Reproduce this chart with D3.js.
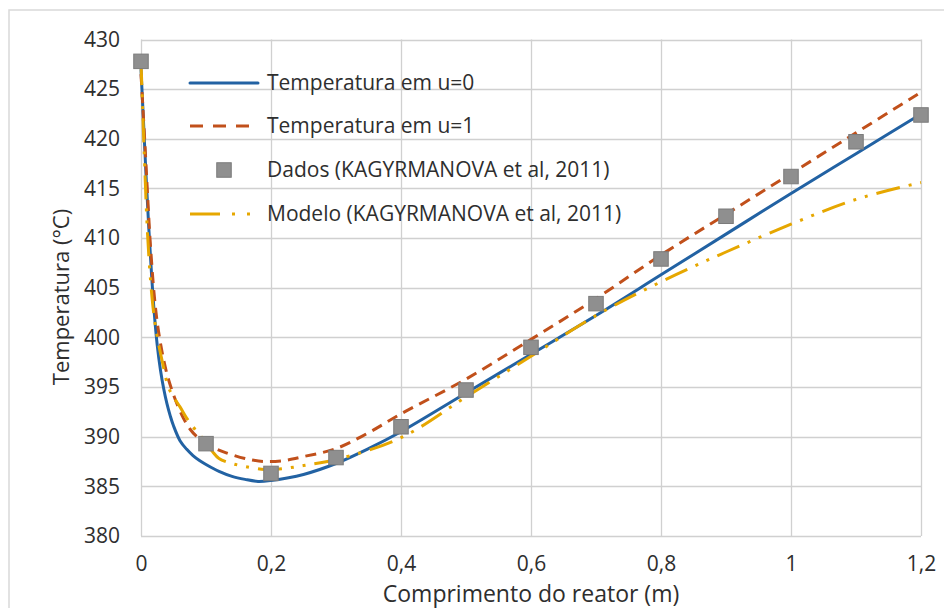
<!DOCTYPE html>
<html>
<head>
<meta charset="utf-8">
<script src="https://cdn.jsdelivr.net/npm/d3@7"></script>
<style>
  html, body { margin: 0; padding: 0; background: #fff; }
  svg { display: block; font-family: "Open Sans", sans-serif; }
</style>
</head>
<body>
<svg id="chart" width="944" height="608"></svg>
<script>
// ---- Data ----
const xTicks = [0, 0.2, 0.4, 0.6, 0.8, 1, 1.2];
const yTicks = [380, 385, 390, 395, 400, 405, 410, 415, 420, 425, 430];

const u0X = [0, 0.004, 0.008, 0.012, 0.016, 0.02, 0.025, 0.03, 0.035, 0.04, 0.045, 0.05, 0.06, 0.07, 0.08, 0.09, 0.1, 0.12, 0.14, 0.16, 0.18, 0.2, 0.25, 0.3, 0.35, 0.4, 0.5, 0.6, 0.7, 0.8, 0.9, 1.0, 1.1, 1.2];
const u0Y = [427.0, 421.5, 416.0, 411.0, 406.6, 402.8, 399.2, 396.7, 394.8, 393.3, 392.1, 391.1, 389.6, 388.75, 388.1, 387.6, 387.2, 386.5, 386.0, 385.7, 385.5, 385.6, 386.2, 387.3, 388.8, 390.5, 394.4, 398.3, 402.2, 406.3, 410.4, 414.5, 418.5, 422.5];

const u1X = [0, 0.006, 0.01, 0.014, 0.02, 0.025, 0.03, 0.035, 0.04, 0.048, 0.056, 0.065, 0.075, 0.086, 0.1, 0.115, 0.13, 0.16, 0.19, 0.22, 0.25, 0.3, 0.35, 0.4, 0.5, 0.6, 0.7, 0.8, 0.9, 1.0, 1.1, 1.2];
const u1Y = [426.5, 419.5, 414.5, 409.8, 404.5, 401.5, 399.4, 397.7, 396.3, 394.6, 393.2, 391.9, 390.8, 390.0, 389.3, 388.8, 388.4, 387.8, 387.5, 387.6, 388.0, 388.8, 390.4, 392.3, 395.8, 399.8, 403.9, 408.3, 412.4, 416.5, 420.6, 424.7];

const dadosX = [0, 0.1, 0.2, 0.3, 0.4, 0.5, 0.6, 0.7, 0.8, 0.9, 1.0, 1.1, 1.2];
const dadosY = [427.8, 389.3, 386.3, 387.9, 391.0, 394.7, 399.0, 403.4, 407.9, 412.2, 416.2, 419.7, 422.4];

const modeloX = [0, 0.005, 0.01, 0.015, 0.02, 0.026, 0.034, 0.042, 0.05, 0.06, 0.07, 0.08, 0.09, 0.1, 0.11, 0.12, 0.14, 0.16, 0.19, 0.22, 0.25, 0.3, 0.4, 0.5, 0.6, 0.7, 0.8, 0.9, 1.0, 1.1, 1.2];
const modeloY = [427.8, 418.5, 410.5, 405.5, 402.2, 399.7, 397.2, 395.0, 394.0, 393.0, 391.9, 391.0, 390.2, 389.4, 388.5, 387.8, 387.3, 387.0, 386.7, 386.8, 387.1, 387.7, 389.9, 394.0, 398.1, 402.2, 405.6, 408.6, 411.4, 413.9, 415.6];

const legendLabels = ["Temperatura em u=0", "Temperatura em u=1", "Dados (KAGYRMANOVA et al, 2011)", "Modelo (KAGYRMANOVA et al, 2011)"];
const xTitle = "Comprimento do reator (m)";
const yTitle = "Temperatura (°C)";

// ---- Styles ----
const C_BLUE = "#2262a3";
const C_RED = "#c1501b";
const C_GOLD = "#e6a700";
const C_GRID = "#d0d0d0";
const C_TEXT = "#2e2e2e";
const C_SQ = "#8f8f8f";
const C_SQ_EDGE = "#7b7b7b";

const svg = d3.select("#chart");
const W = 944, H = 608;
const plot = { left: 141, right: 921, top: 39.5, bottom: 536 };

// outer frame
svg.append("rect").attr("x", 9).attr("y", 10).attr("width", W).attr("height", H)
  .attr("fill", "#fff").attr("stroke", "#d9d9d9").attr("stroke-width", 1.5);

const x = d3.scaleLinear().domain([0, 1.2]).range([plot.left, plot.right]);
const y = d3.scaleLinear().domain([380, 430]).range([plot.bottom, plot.top]);

const fmt = d => d3.format("")(d).replace(".", ",");

// gridlines
const grid = svg.append("g");
grid.selectAll("line.h").data(yTicks).join("line")
  .attr("x1", plot.left).attr("x2", plot.right)
  .attr("y1", d => Math.round(y(d)) + 0.5).attr("y2", d => Math.round(y(d)) + 0.5)
  .attr("stroke", C_GRID).attr("stroke-width", 1.3);
grid.selectAll("line.v").data(xTicks).join("line")
  .attr("y1", plot.top).attr("y2", plot.bottom)
  .attr("x1", d => Math.round(x(d)) + 0.5).attr("x2", d => Math.round(x(d)) + 0.5)
  .attr("stroke", C_GRID).attr("stroke-width", 1.3);

// axes (labels via d3 axes)
const xAxis = svg.append("g").attr("transform", `translate(0,${plot.bottom})`)
  .call(d3.axisBottom(x).tickValues(xTicks).tickFormat(fmt).tickSize(0).tickPadding(20));
const yAxis = svg.append("g").attr("transform", `translate(${plot.left},0)`)
  .call(d3.axisLeft(y).tickValues(yTicks).tickFormat(d => d).tickSize(0).tickPadding(21));
[xAxis, yAxis].forEach(a => {
  a.select(".domain").remove();
  a.selectAll("text").attr("fill", C_TEXT).style("font-size", "21px").style("font-family", "'Open Sans', sans-serif");
});
xAxis.selectAll("text").attr("dy", "0.71em");

// axis titles
svg.append("text").attr("x", 531).attr("y", 602)
  .attr("text-anchor", "middle").attr("fill", C_TEXT).style("font-size", "23px").text(xTitle);
svg.append("text").attr("transform", `translate(69,297) rotate(-90)`)
  .attr("text-anchor", "middle").attr("fill", C_TEXT).style("font-size", "22px").text(yTitle);

// lines
const line = d3.line().x(d => x(d[0])).y(d => y(d[1])).curve(d3.curveCatmullRom.alpha(0.5));
const zip = (a, b) => a.map((v, i) => [v, b[i]]);

svg.append("clipPath").attr("id", "clip").append("rect")
  .attr("x", plot.left - 4).attr("y", plot.top - 4)
  .attr("width", plot.right - plot.left + 8).attr("height", plot.bottom - plot.top + 8);

const series = svg.append("g").attr("clip-path", "url(#clip)");
series.append("path").datum(zip(u0X, u0Y)).attr("d", line)
  .attr("fill", "none").attr("stroke", C_BLUE).attr("stroke-width", 3);
series.append("path").datum(zip(u1X, u1Y)).attr("d", line)
  .attr("fill", "none").attr("stroke", C_RED).attr("stroke-width", 3)
  .attr("stroke-dasharray", "11,7");
series.append("path").datum(zip(modeloX, modeloY)).attr("d", line)
  .attr("fill", "none").attr("stroke", C_GOLD).attr("stroke-width", 3)
  .attr("stroke-dasharray", "24,9,3,9,3,9");

// data squares
const sq = 14.5;
svg.append("g").selectAll("rect").data(zip(dadosX, dadosY)).join("rect")
  .attr("x", d => x(d[0]) - sq / 2).attr("y", d => y(d[1]) - sq / 2)
  .attr("width", sq).attr("height", sq)
  .attr("fill", C_SQ).attr("stroke", C_SQ_EDGE).attr("stroke-width", 1);

// legend
const lg = svg.append("g");
const legY = [83, 126, 170, 214];
const lx0 = 190, lx1 = 258, tx = 267;
lg.append("line").attr("x1", lx0).attr("x2", lx1).attr("y1", legY[0]).attr("y2", legY[0])
  .attr("stroke", C_BLUE).attr("stroke-width", 3).attr("stroke-linecap", "round");
lg.append("line").attr("x1", lx0).attr("x2", lx1).attr("y1", legY[1]).attr("y2", legY[1])
  .attr("stroke", C_RED).attr("stroke-width", 3).attr("stroke-dasharray", "13,10");
lg.append("rect").attr("x", 224 - sq / 2).attr("y", legY[2] - sq / 2).attr("width", sq).attr("height", sq)
  .attr("fill", C_SQ).attr("stroke", C_SQ_EDGE).attr("stroke-width", 1);
lg.append("line").attr("x1", lx0).attr("x2", lx1).attr("y1", legY[3]).attr("y2", legY[3])
  .attr("stroke", C_GOLD).attr("stroke-width", 3).attr("stroke-dasharray", "30,12,3,12,3,20");
lg.selectAll("text").data(legendLabels).join("text")
  .attr("x", tx).attr("y", (d, i) => legY[i]).attr("dy", "0.35em")
  .attr("fill", C_TEXT).style("font-size", "21px").text(d => d);
</script>
</body>
</html>
